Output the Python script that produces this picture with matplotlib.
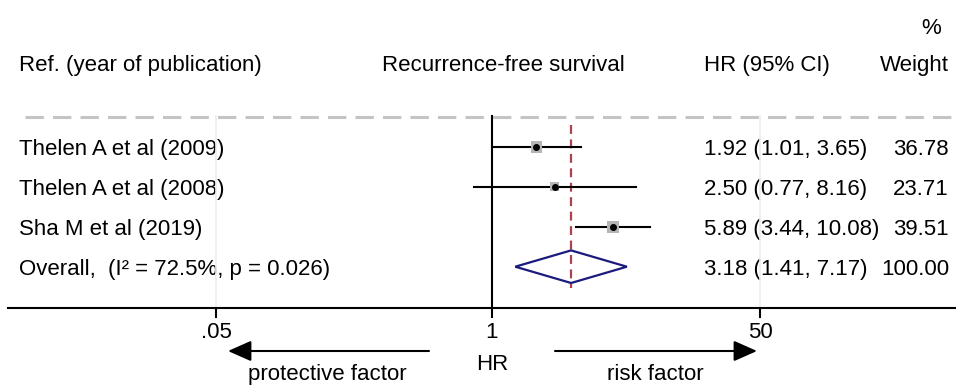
import numpy as np
import matplotlib
matplotlib.use("Agg")
import matplotlib.pyplot as plt
from matplotlib.patches import Polygon

plt.rcParams['font.family'] = ['Liberation Sans', 'DejaVu Sans']

# ---------------- data ----------------
studies = ["Thelen A et al (2009)", "Thelen A et al (2008)", "Sha M et al (2019)"]
hr = [1.92, 2.50, 5.89]
ci_low = [1.01, 0.77, 3.44]
ci_high = [3.65, 8.16, 10.08]
weights = [36.78, 23.71, 39.51]
overall_label = "Overall,  (I\u00b2 = 72.5%, p = 0.026)"
overall_hr = 3.18
overall_low = 1.41
overall_high = 7.17
overall_weight = 100.00
tick_values = [0.018, 1, 50]
tick_labels = [".05", "1", "50"]
header_left = "Ref. (year of publication)"
header_mid = "Recurrence-free survival"
header_hr = "HR (95% CI)"
header_w1 = "%"
header_w2 = "Weight"

# ---------------- figure ----------------
W, H = 956, 385
fig = plt.figure(figsize=(W / 100, H / 100), dpi=100)

# overlay pixel axes for text / decorations
tx = fig.add_axes([0, 0, 1, 1])
tx.set_xlim(0, W)
tx.set_ylim(H, 0)
tx.axis('off')

# main log-x axes (pixel y)
ax = fig.add_axes([0, 0, 1, 1], facecolor='none')
x1px, ppd = 491.7, 158.0
ax.set_xscale('log')
ax.set_xlim(10 ** (-x1px / ppd), 10 ** ((W - x1px) / ppd))
ax.set_ylim(H, 0)
ax.axis('off')

fs = 16
row_y = [146.7 + 40 * i for i in range(len(studies) + 1)]
axis_y = 307.7

# faint grid lines at ticks
for tv in tick_values:
    if tv != 1:
        ax.plot([tv, tv], [116, axis_y], color='#ececec', lw=1.2, zorder=0)

# header dashed line
tx.plot([25, W], [116.7, 116.7], color='#c4c4c4', lw=2.2,
        dashes=(6, 3), zorder=1)

# headers
tx.text(19, 71, header_left, fontsize=fs, ha='left', va='baseline')
tx.text(503, 71, header_mid, fontsize=fs, ha='center', va='baseline')
tx.text(704, 71, header_hr, fontsize=fs, ha='left', va='baseline')
tx.text(931, 33.5, header_w1, fontsize=fs, ha='center', va='baseline')
tx.text(949, 71, header_w2, fontsize=fs, ha='right', va='baseline')

# null line
ax.plot([1, 1], [116, axis_y], color='black', lw=1.5, zorder=2)
# overall dashed line
ax.plot([overall_hr, overall_hr], [125, 288], color='#a8434f', lw=1.6,
        dashes=(4, 2.5), zorder=2)

# studies
for i, (name, h, lo, hi, w) in enumerate(zip(studies, hr, ci_low, ci_high, weights)):
    y = row_y[i]
    ax.plot([lo, hi], [y, y], color='black', lw=1.5, zorder=3)
    ax.scatter([h], [y], marker='s', s=w * 1.9, color='#b5b5b5',
               edgecolors='none', zorder=4)
    ax.scatter([h], [y], marker='o', s=16, color='black', zorder=5)
    tx.text(19, y + 8, name, fontsize=fs, ha='left', va='baseline')
    tx.text(704, y + 8, f"{h:.2f} ({lo:.2f}, {hi:.2f})", fontsize=fs,
            ha='left', va='baseline')
    tx.text(949, y + 8, f"{w:.2f}", fontsize=fs, ha='right', va='baseline')

# overall diamond
yo = row_y[-1]
dh = 16.3
diamond_x = [overall_low, overall_hr, overall_high, overall_hr]
diamond_y = [yo, yo - dh, yo, yo + dh]
ax.add_patch(Polygon(list(zip(diamond_x, diamond_y)), closed=True,
                     facecolor='none', edgecolor='#1b1b7e', lw=1.6, zorder=4))
tx.text(19, yo + 8, overall_label, fontsize=fs, ha='left', va='baseline')
tx.text(704, yo + 8, f"{overall_hr:.2f} ({overall_low:.2f}, {overall_high:.2f})",
        fontsize=fs, ha='left', va='baseline')
tx.text(949, yo + 8, f"{overall_weight:.2f}", fontsize=fs, ha='right', va='baseline')

# x axis line
tx.plot([8, W], [axis_y, axis_y], color='black', lw=1.5, zorder=3)
for tv, tl in zip(tick_values, tick_labels):
    ax.plot([tv, tv], [axis_y, 317], color='black', lw=1.5, zorder=3)
    ax.text(tv, 337.5, tl, fontsize=fs, ha='center', va='baseline')

# axis title and arrows
tx.text(492, 370, "HR", fontsize=fs, ha='center', va='baseline')
arrow_kw = dict(arrowstyle='-|>,head_length=0.95,head_width=0.42', color='black',
                lw=1.5, mutation_scale=15, shrinkA=0, shrinkB=0)
tx.annotate('', xy=(228, 351), xytext=(429, 351), arrowprops=arrow_kw)
tx.annotate('', xy=(757, 351), xytext=(555, 351), arrowprops=arrow_kw)
tx.text(327.5, 380, "protective factor", fontsize=fs, ha='center', va='baseline')
tx.text(655.5, 380, "risk factor", fontsize=fs, ha='center', va='baseline')

fig.savefig("out.png", dpi=100)
